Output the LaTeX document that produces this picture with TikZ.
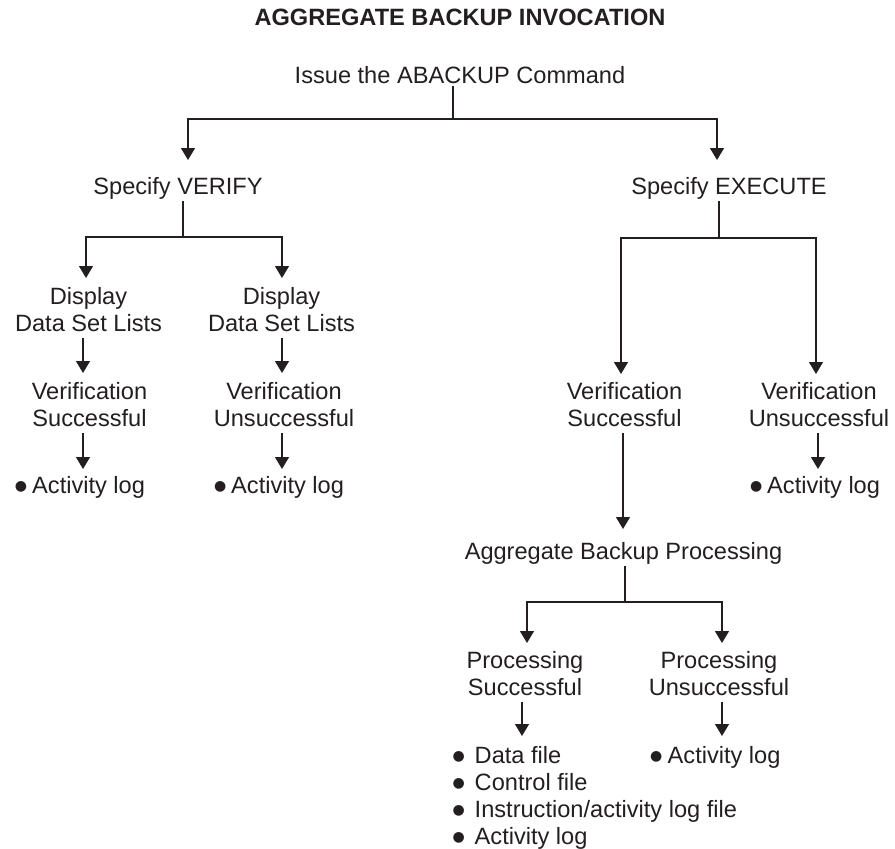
\documentclass[tikz,border=0pt]{standalone}
\usepackage{fontspec}
\setmainfont{Liberation Sans}
\newfontfamily\symf{DejaVu Sans}
\usetikzlibrary{arrows.meta}
\definecolor{ink}{RGB}{35,31,32}
\newcommand\ms{\rule[-7pt]{0pt}{27pt}}
\newcommand\bul{\raisebox{2.5pt}{\symf\fontsize{14}{14}\selectfont ●}}
\tikzset{
  lbl/.style={font=\fontsize{23.6}{27}\selectfont, text=ink, inner sep=0pt, outer sep=0pt, align=center, anchor=north},
  lst/.style={lbl, align=left, anchor=north west},
  ln/.style={draw=ink, line width=1.2pt},
  arr/.style={ln, -{Triangle[width=14pt,length=12pt]}, shorten >=6pt},
}
\begin{document}
\begin{tikzpicture}[x=1pt,y=-1pt]
\useasboundingbox (0,0) rectangle (895,849);
% texts
\node[lbl, font=\fontsize{23.6}{27}\selectfont\bfseries] (title) at (460,5) {\ms AGGREGATE BACKUP INVOCATION};
\node[lbl] (issue) at (460,63) {\ms Issue the ABACKUP Command};
\node[lbl] (verify) at (178,174) {\ms Specify VERIFY};
\node[lbl] (execute) at (729,174) {\ms Specify EXECUTE};
\node[lbl] (dispL) at (88.5,284) {\ms Display\\\ms Data Set Lists};
\node[lbl] (dispR) at (281.5,284) {\ms Display\\\ms Data Set Lists};
\node[lbl] (verL) at (89.5,379) {\ms Verification\\\ms Successful};
\node[lbl] (verR) at (284,379) {\ms Verification\\\ms Unsuccessful};
\node[lst] (logL) at (15,473) {\ms\bul\hspace{5pt}Activity log};
\node[lst] (logR) at (214,473) {\ms\bul\hspace{5pt}Activity log};
\node[lbl] (verES) at (624.5,379) {\ms Verification\\\ms Successful};
\node[lbl] (verEU) at (819,379) {\ms Verification\\\ms Unsuccessful};
\node[lst] (logE) at (750,473) {\ms\bul\hspace{5pt}Activity log};
\node[lbl] (agg) at (623.5,539) {\ms Aggregate Backup Processing};
\node[lbl] (procS) at (525,648) {\ms Processing\\\ms Successful};
\node[lbl] (procU) at (719,648) {\ms Processing\\\ms Unsuccessful};
\node[lst] (listS) at (452.5,743) {\ms\bul\hspace{10pt}Data file\\\ms\bul\hspace{10pt}Control file\\\ms\bul\hspace{10pt}Instruction/activity log file\\\ms\bul\hspace{10pt}Activity log};
\node[lst] (logP) at (650,743) {\ms\bul\hspace{5.5pt}Activity log};
% junctions and columns
\coordinate (t0) at (453,119);
\coordinate (tL) at (188,119);
\coordinate (tR) at (717,119);
\coordinate (v0) at (183,237);
\coordinate (vL) at (86,237);
\coordinate (vR) at (282,237);
\coordinate (cL) at (83,0);
\coordinate (cR) at (282,0);
\coordinate (e0) at (719,238);
\coordinate (eL) at (621,238);
\coordinate (eR) at (816,238);
\coordinate (cES) at (623,0);
\coordinate (cEU) at (818,0);
\coordinate (a0) at (625,602);
\coordinate (aL) at (527,602);
\coordinate (aR) at (722,602);
\coordinate (cPS) at (522,0);
\coordinate (cPU) at (722,0);
% top level
\draw[ln, shorten <=-4pt] (issue.south -| t0) -- (t0);
\draw[arr, shorten >=14pt] (t0) -- (tL) -- (verify.north -| tL);
\draw[arr, shorten >=14pt] (t0) -- (tR) -- (execute.north -| tR);
% verify branch
\draw[ln] (verify.south -| v0) -- (v0);
\draw[arr] (v0) -- (vL) -- (dispL.north -| vL);
\draw[arr] (v0) -- (vR) -- (dispR.north -| vR);
\draw[arr] (dispL.south -| cL) -- (verL.north -| cL);
\draw[arr] (dispR.south -| cR) -- (verR.north -| cR);
\draw[arr, shorten >=4pt] (verL.south -| cL) -- (logL.north -| cL);
\draw[arr, shorten >=4pt] (verR.south -| cR) -- (logR.north -| cR);
% execute branch
\draw[ln] (execute.south -| e0) -- (e0);
\draw[arr, shorten >=5pt] (e0) -- (eL) -- (verES.north -| eL);
\draw[arr, shorten >=5pt] (e0) -- (eR) -- (verEU.north -| eR);
\draw[arr, shorten >=4pt] (verEU.south -| cEU) -- (logE.north -| cEU);
\draw[arr, shorten >=10pt] (verES.south -| cES) -- (agg.north -| cES);
\draw[ln] (agg.south -| a0) -- (a0);
\draw[arr, shorten >=5pt] (a0) -- (aL) -- (procS.north -| aL);
\draw[arr, shorten >=5pt] (a0) -- (aR) -- (procU.north -| aR);
\draw[arr, shorten >=7pt] (procS.south -| cPS) -- (listS.north -| cPS);
\draw[arr, shorten >=7pt] (procU.south -| cPU) -- (logP.north -| cPU);
\end{tikzpicture}
\end{document}
